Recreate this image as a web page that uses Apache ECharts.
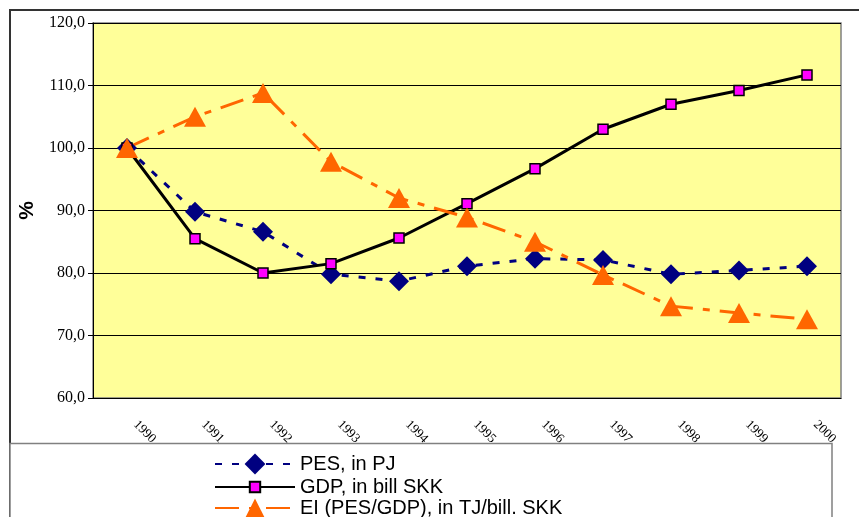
<!DOCTYPE html>
<html>
<head>
<meta charset="utf-8">
<script src="https://cdn.jsdelivr.net/npm/echarts@6/dist/echarts.min.js"></script>
<style>
  html, body { margin: 0; padding: 0; background: #fff; }
  #main { width: 859px; height: 517px; }
</style>
</head>
<body>
<div id="main"></div>
<script>
// data
const years = ['1990', '1991', '1992', '1993', '1994', '1995', '1996', '1997', '1998', '1999', '2000']
const pes = [100.0, 89.8, 86.6, 79.8, 78.7, 81.1, 82.3, 82.1, 79.8, 80.4, 81.1]
const gdp = [100.0, 85.5, 80.0, 81.5, 85.6, 91.1, 96.7, 103.0, 107.0, 109.2, 111.7]
const ei = [100.0, 105.0, 108.8, 97.8, 92.0, 88.9, 85.0, 79.7, 74.7, 73.6, 72.6]
const seriesNames = ['PES, in PJ', 'GDP, in bill SKK', 'EI (PES/GDP), in TJ/bill. SKK']

const chart = echarts.init(document.getElementById('main'))

// one legend per row so each marker can keep its own size
const legendText = { fontFamily: 'Liberation Sans', fontSize: 20, lineHeight: 22, color: '#000' }
function legendRow (name, top, itemHeight) {
  return {
    orient: 'vertical',
    left: 214,
    top: top,
    padding: 0,
    itemWidth: 80,
    itemHeight: itemHeight,
    textStyle: legendText,
    data: [name]
  }
}

chart.setOption({
  animation: false,
  backgroundColor: '#fff',
  graphic: [
    // outer frame of the chart
    {
      type: 'rect',
      shape: { x: 10, y: 10, width: 870, height: 530 },
      style: { fill: 'none', stroke: '#333', lineWidth: 2 },
      z: -1
    },
    // legend box
    {
      type: 'rect',
      shape: { x: 10, y: 443.5, width: 822, height: 100 },
      style: { fill: '#fff', stroke: '#808080', lineWidth: 1.5 },
      z: -1
    }
  ],
  grid: {
    left: 93,
    top: 23,
    width: 748,
    height: 375,
    show: true,
    backgroundColor: '#FFFF99',
    borderColor: '#808080',
    borderWidth: 1.5
  },
  legend: [
    legendRow(seriesNames[0], 453, 26),
    legendRow(seriesNames[1], 476, 13),
    legendRow(seriesNames[2], 497, 24)
  ],
  xAxis: {
    type: 'category',
    data: years,
    boundaryGap: true,
    axisLine: { lineStyle: { color: '#000', width: 1 } },
    axisTick: { length: 5, lineStyle: { color: '#000' } },
    axisLabel: {
      rotate: -45,
      margin: 16,
      padding: [0, 0, 0, 12],
      fontFamily: 'Liberation Serif',
      fontSize: 13,
      color: '#000'
    }
  },
  yAxis: {
    type: 'value',
    min: 60,
    max: 120,
    interval: 10,
    name: '%',
    nameLocation: 'middle',
    nameGap: 50,
    nameRotate: 90,
    nameTextStyle: { fontFamily: 'Liberation Sans', fontSize: 21, fontWeight: 'bold', color: '#000' },
    axisLine: { show: true, lineStyle: { color: '#000', width: 1 } },
    axisTick: { show: true, length: 5, lineStyle: { color: '#000' } },
    splitLine: { lineStyle: { color: '#000', width: 1 } },
    axisLabel: {
      margin: 8,
      fontFamily: 'Liberation Serif',
      fontSize: 16,
      color: '#000',
      formatter: v => v.toFixed(1).replace('.', ',')
    }
  },
  series: [
    {
      name: seriesNames[0],
      type: 'line',
      data: pes,
      color: '#000080',
      symbol: 'diamond',
      symbolSize: 20,
      lineStyle: { color: '#000080', width: 3, type: [7, 10] },
      itemStyle: { color: '#000080' }
    },
    {
      name: seriesNames[1],
      type: 'line',
      data: gdp,
      color: '#000',
      symbol: 'rect',
      symbolSize: 10,
      lineStyle: { color: '#000', width: 3 },
      itemStyle: { color: '#FF00FF', borderColor: '#000', borderWidth: 1.5 }
    },
    {
      name: seriesNames[2],
      type: 'line',
      data: ei,
      color: '#FF6600',
      symbol: 'triangle',
      symbolSize: [22, 20],
      lineStyle: { color: '#FF6600', width: 3, type: [24, 10, 7, 10] },
      itemStyle: { color: '#FF6600' }
    }
  ]
})
</script>
</body>
</html>
